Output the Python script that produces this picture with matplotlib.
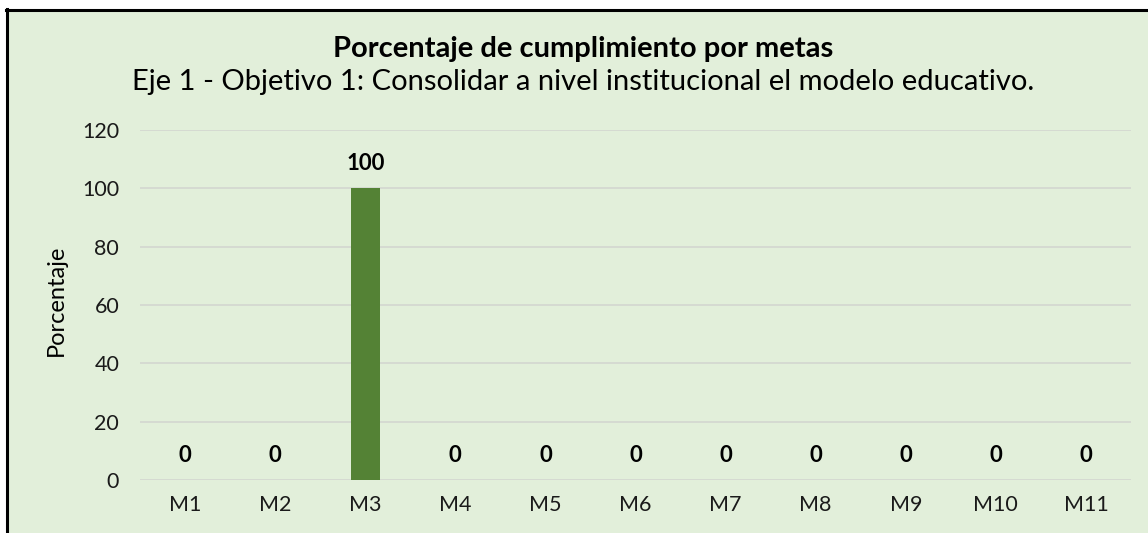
import matplotlib.pyplot as plt
from matplotlib.lines import Line2D

metas = ['M1', 'M2', 'M3', 'M4', 'M5', 'M6', 'M7', 'M8', 'M9', 'M10', 'M11']
porcentaje = [0, 0, 100, 0, 0, 0, 0, 0, 0, 0, 0]
yticks = [0, 20, 40, 60, 80, 100, 120]

plt.rcParams['font.family'] = ['Lato', 'DejaVu Sans']
bg = '#E2EFDA'
W, H = 1148, 533

fig = plt.figure(figsize=(11.48, 5.33), dpi=100)
fig.patch.set_facecolor('white')

# green chart area, black border on top and left
fig.patches.append(plt.Rectangle((6 / W, 0), 1, 1 - 10 / H, transform=fig.transFigure,
                                 facecolor=bg, edgecolor='none', zorder=-1))
fig.lines.append(Line2D([5.5 / W, 1], [1 - 9.5 / H, 1 - 9.5 / H], transform=fig.transFigure,
                        color='black', lw=2.2))
fig.lines.append(Line2D([6.5 / W, 6.5 / W], [0, 1 - 8.5 / H], transform=fig.transFigure,
                        color='black', lw=2.2))

ax = fig.add_axes([140 / W, 53 / H, 991 / W, 350 / H])
ax.set_facecolor('none')
ax.set_zorder(2)

x = range(len(metas))
ax.bar(x, porcentaje, width=0.322, color='#548235', zorder=3)

# data labels above each bar
for i, v in enumerate(porcentaje):
    ax.text(i, v + 8.5, str(v), ha='center', va='center', fontsize=16,
            fontweight='bold', color='black')

ax.set_ylim(0, 120)
ax.set_xlim(-0.5, len(metas) - 0.5)
ax.set_yticks(yticks)
ax.set_xticks(list(x))
ax.set_xticklabels(metas)
ax.yaxis.grid(True, color='#D3D6D0', lw=1.2)
ax.set_axisbelow(True)
for s in ax.spines.values():
    s.set_visible(False)
ax.tick_params(axis='both', length=0, labelsize=15.5, colors='#1a1a1a')
ax.tick_params(axis='y', pad=15)
ax.tick_params(axis='x', pad=11)

fig.text(56 / W, 1 - 300 / H, 'Porcentaje', rotation=90, ha='center', va='center',
         fontsize=17, color='black')

fig.text(583 / W, 1 - 57 / H, 'Porcentaje de cumplimiento por metas', ha='center', va='baseline',
         fontsize=21, fontweight='bold')
fig.text(583 / W, 1 - 90 / H, 'Eje 1 - Objetivo 1: Consolidar a nivel institucional el modelo educativo.',
         ha='center', va='baseline', fontsize=21)

fig.savefig('out.png', dpi=100)
